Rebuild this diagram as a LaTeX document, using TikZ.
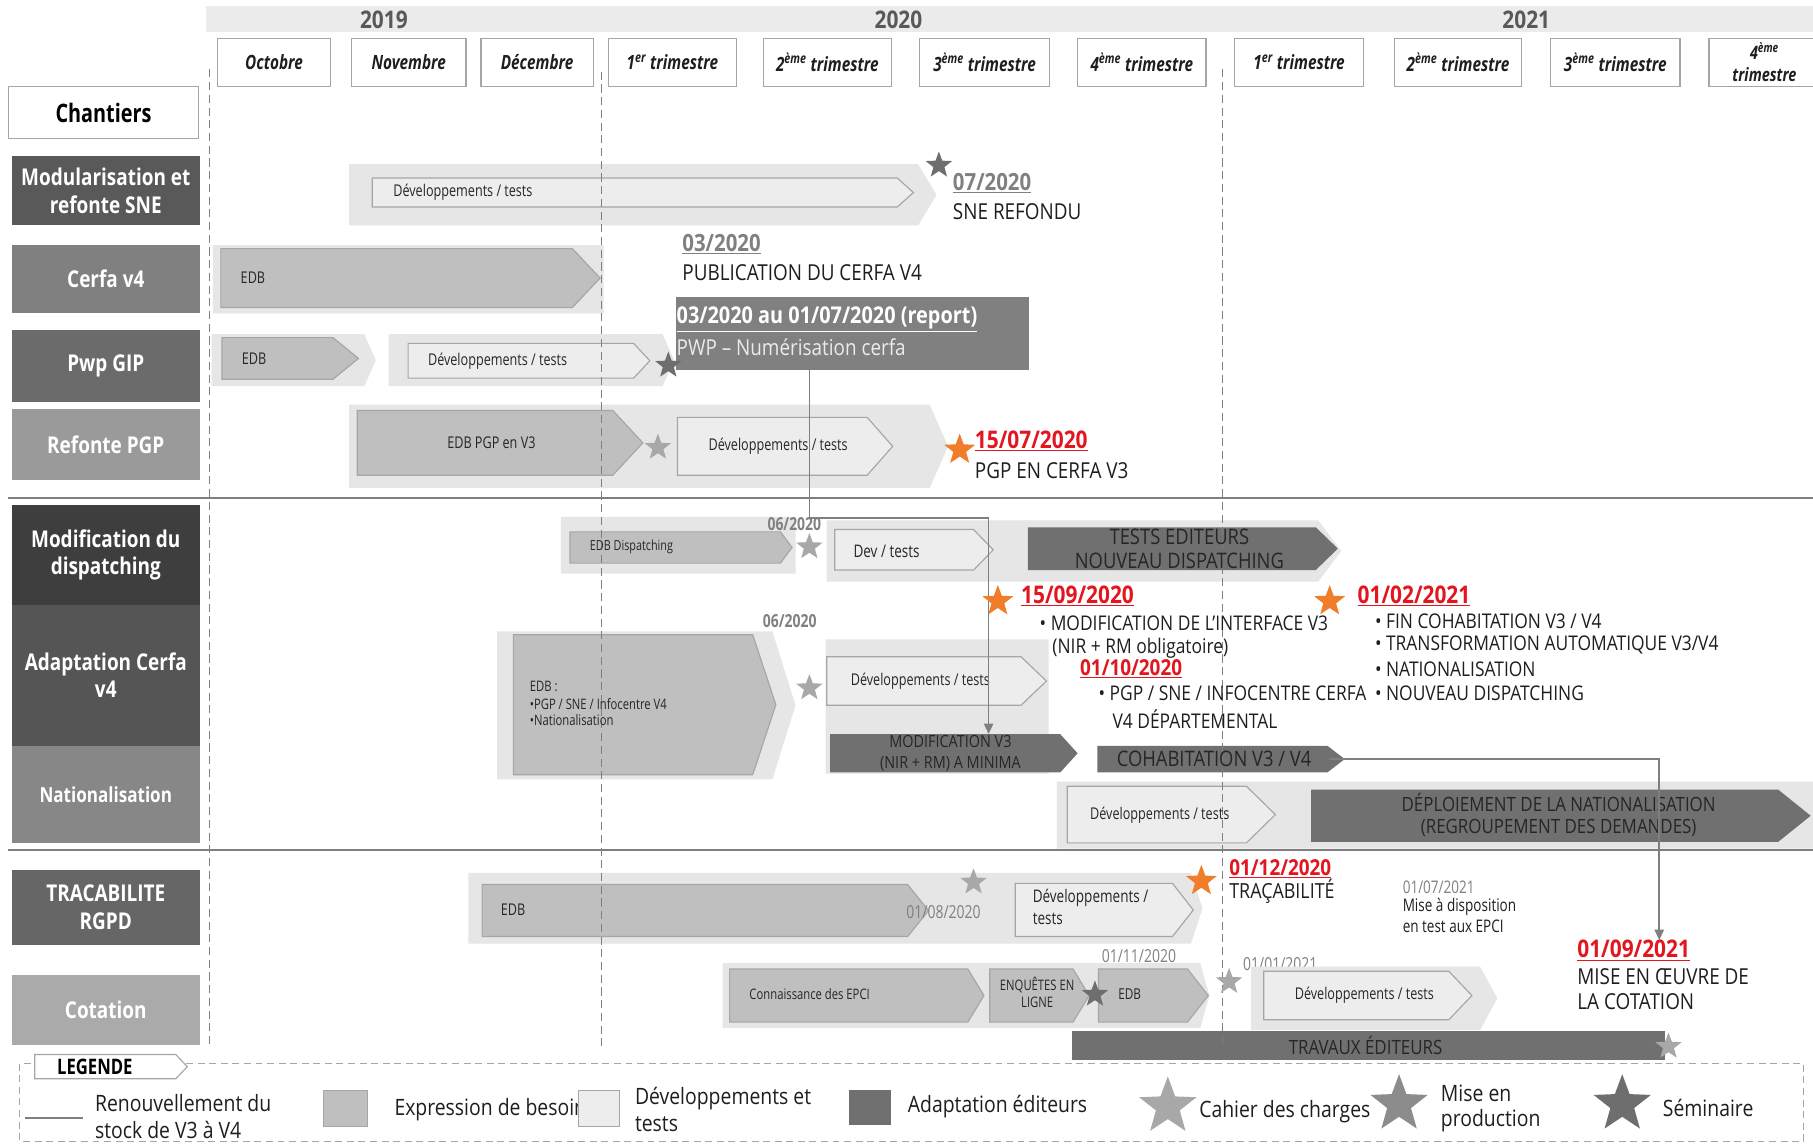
\documentclass[tikz,border=0pt]{standalone}
\usepackage{fontspec}
\setmainfont{Open Sans}
\newfontfamily\fC[FakeStretch=0.78]{Open Sans}
\newfontfamily\fB[FakeStretch=0.82]{Open Sans}
\newfontfamily\fA[FakeStretch=0.86]{Open Sans}
\usetikzlibrary{shapes.geometric,arrows.meta}
\definecolor{bandc}{HTML}{E6E6E6}
\definecolor{devc}{HTML}{EDEDED}
\definecolor{edgec}{HTML}{A6A6A6}
\definecolor{edbc}{HTML}{BFBFBF}
\definecolor{darkc}{HTML}{707070}
\definecolor{pwpc}{HTML}{808080}
\definecolor{linec}{HTML}{7F7F7F}
\definecolor{yearc}{HTML}{595959}
\definecolor{datec}{HTML}{808080}
\definecolor{redc}{HTML}{E3151E}
\definecolor{orangec}{HTML}{F07D2A}
\definecolor{starL}{HTML}{A8A8A8}
\definecolor{starM}{HTML}{8C8C8C}
\definecolor{starD}{HTML}{6E6E6E}
\definecolor{txt}{HTML}{1E1E1E}
\definecolor{dtxt}{HTML}{262626}
\definecolor{rA}{HTML}{595959}
\definecolor{rB}{HTML}{808080}
\definecolor{rC}{HTML}{6B6B6B}
\definecolor{rD}{HTML}{9A9A9A}
\definecolor{rE}{HTML}{3E3E3E}
\definecolor{rF}{HTML}{555555}
\definecolor{rG}{HTML}{878787}
\definecolor{rH}{HTML}{666666}
\definecolor{rI}{HTML}{AAAAAA}
\newcommand\fs[2]{\fontsize{#1pt}{#2pt}\selectfont}
\newcommand\chevr[6]{\path[#1] (#2,#3) -- ({#4-(#6)},#3) -- (#4,{(#3+#5)/2}) -- ({#4-(#6)},#5) -- (#2,#5) -- cycle;}
\tikzset{
  band/.style={fill=bandc,draw=none},
  devbox/.style={fill=devc,draw=edgec,line width=1pt},
  edbbox/.style={fill=edbc,draw=edgec,line width=1pt},
  darkbox/.style={fill=darkc,draw=none},
  yr/.style={inner sep=0pt,text=yearc,font=\fA\bfseries\fs{21}{24}},
  month/.style={draw=edgec,fill=white,line width=1pt,inner sep=0pt,align=center,font=\fC\bfseries\itshape\fs{17}{18},text=txt},
  rowlab/.style={inner sep=0pt,minimum width=163pt,align=center,text=white,font=\fB\bfseries\fs{20}{24}},
  lbl/.style={inner sep=0pt,text=dtxt,font=\fC\fs{14}{16}},
  slbl/.style={inner sep=0pt,text=dtxt,font=\fC\fs{12.5}{14}},
  dlbl/.style={inner sep=0pt,text=dtxt,font=\fA\fs{18.5}{20}},
  gdate/.style={inner sep=0pt,text=datec,font=\fC\bfseries\fs{15.5}{17}},
  bdate/.style={inner sep=0pt,text=datec,font=\fA\bfseries\fs{20.5}{23}},
  rdate/.style={inner sep=0pt,text=redc,font=\fA\bfseries\fs{21}{23}},
  note/.style={inner sep=0pt,text=txt,font=\fA\fs{19}{21}},
  bnote/.style={inner sep=0pt,text=txt,font=\fA\fs{17.5}{20}},
  leg/.style={inner sep=0pt,text=txt,font=\fA\fs{19.5}{22}},
  starbase/.style={star,star points=5,star point ratio=2.4,inner sep=0pt,draw=none},
  stL/.style={starbase,fill=starL,minimum size=24pt},
  stM/.style={starbase,fill=starM,minimum size=24pt},
  stD/.style={starbase,fill=starD,minimum size=24pt},
  stO/.style={starbase,fill=orangec,minimum size=28pt},
  conn/.style={draw=linec,line width=1.4pt},
  sep/.style={draw=linec,line width=1.6pt},
  vdash/.style={draw=linec,line width=0.9pt,dash pattern=on 7pt off 4pt},
}
\begin{document}
\begin{tikzpicture}[x=1pt,y=-1pt]
\useasboundingbox (0,0) rectangle (1568,990);
\fill[white] (0,0) rectangle (1568,990);

% ---------- header ----------
\fill[bandc!80!white] (178,5) rectangle (1568,28);
\node[yr] (y19) at (332,17) {2019};
\node[yr] (y20) at (777,17) {2020};
\node[yr] (y21) at (1320,17) {2021};

\node[month,minimum width=98pt,minimum height=42pt] (m1) at (237,54) {Octobre};
\node[month,minimum width=99pt,minimum height=42pt] (m2) at (353.5,54) {Novembre};
\node[month,minimum width=97pt,minimum height=42pt] (m3) at (464.5,54) {Décembre};
\node[month,minimum width=111pt,minimum height=42pt] (m4) at (581.5,54) {1\textsuperscript{er} trimestre};
\node[month,minimum width=111pt,minimum height=42pt] (m5) at (715.5,54) {2\textsuperscript{ème} trimestre};
\node[month,minimum width=113pt,minimum height=42pt] (m6) at (851.5,54) {3\textsuperscript{ème} trimestre};
\node[month,minimum width=111pt,minimum height=42pt] (m7) at (987.5,54) {4\textsuperscript{ème} trimestre};
\node[month,minimum width=111pt,minimum height=42pt] (m8) at (1123.5,54) {1\textsuperscript{er} trimestre};
\node[month,minimum width=110pt,minimum height=42pt] (m9) at (1261,54) {2\textsuperscript{ème} trimestre};
\node[month,minimum width=112pt,minimum height=42pt] (m10) at (1397,54) {3\textsuperscript{ème} trimestre};
\node[month,minimum width=96pt,minimum height=42pt,font=\fC\bfseries\itshape\fs{16}{19}] (m11) at (1526,54) {4\textsuperscript{ème}\\trimestre};

% ---------- separators ----------
\draw[sep] (7,431) -- (1568,431);
\draw[sep] (7,735) -- (1568,735);

% ---------- row labels ----------
\node[draw=edgec,line width=1pt,fill=white,minimum width=165pt,minimum height=45pt,inner sep=0pt,font=\fC\bfseries\fs{22}{24},text=black] (chant) at (89.5,97.5) {Chantiers};
\node[rowlab,fill=rA,minimum height=60pt] (r1) at (91.5,165) {Modularisation et\\refonte SNE};
\node[rowlab,fill=rB,minimum height=59pt] (r2) at (91.5,241.5) {Cerfa v4};
\node[rowlab,fill=rC,minimum height=63pt] (r3) at (91.5,316.5) {Pwp GIP};
\node[rowlab,fill=rD,minimum height=61pt] (r4) at (91.5,384.5) {Refonte PGP};
\node[rowlab,fill=rE,minimum height=86pt] (r5) at (91.5,480) {Modification du\\dispatching};
\node[rowlab,fill=rF,minimum height=122pt] (r6) at (91.5,584) {Adaptation Cerfa\\v4};
\node[rowlab,fill=rG,minimum height=84pt,font=\fB\bfseries\fs{18}{20}] (r7) at (91.5,687) {Nationalisation};
\node[rowlab,fill=rH,minimum height=65pt] (r8) at (91.5,784.5) {TRACABILITE\\RGPD};
\node[rowlab,fill=rI,minimum height=61pt] (r9) at (91.5,873.5) {Cotation};

% ---------- boxes ----------
\chevr{band}{302}{142}{810}{195}{16}
\chevr{devbox}{322}{154}{790}{179}{14}
\chevr{band}{184}{212}{522}{271}{0}
\chevr{edbbox}{191}{215}{519}{266}{24}
\chevr{band}{183}{289}{325}{334}{10}
\chevr{edbbox}{192}{292}{310}{328}{22}
\chevr{band}{336}{289}{583}{334}{10}
\chevr{devbox}{353}{297}{562}{327}{14}
\node[fill=pwpc,minimum width=305pt,minimum height=63pt,inner sep=0pt] (pwp) at (737.5,288.5) {};
\chevr{band}{302}{350}{820}{422}{16}
\chevr{edbbox}{309}{355}{556}{411}{26}
\chevr{devbox}{586}{361}{772}{411}{22}
\chevr{band}{485}{447}{688}{496}{0}
\chevr{edbbox}{493}{460}{685}{487}{10}
\chevr{band}{715}{450}{1160}{503}{20}
\chevr{devbox}{722}{458}{859}{493}{17}
\chevr{darkbox}{889}{456}{1157}{493}{19}
\chevr{band}{430}{546}{688}{674}{20}
\chevr{edbbox}{444}{549}{671}{670}{20}
\chevr{band}{714}{553}{907}{669}{0}
\chevr{devbox}{715}{568}{905}{610}{22}
\chevr{darkbox}{718}{635}{932}{668}{15}
\chevr{darkbox}{949}{645}{1163}{668}{15}
\chevr{band}{914}{676}{1568}{734}{0}
\chevr{devbox}{923}{680}{1103}{729}{25}
\chevr{darkbox}{1134}{683}{1566}{728}{28}
\chevr{band}{405}{755}{1040}{816}{10}
\chevr{edbbox}{417}{765}{803}{810}{18}
\chevr{devbox}{878}{764}{1032}{810}{18}
\chevr{band}{625}{833}{1046}{889}{8}
\chevr{edbbox}{631}{838}{851}{884}{14}
\chevr{edbbox}{856}{838}{942}{884}{14}
\chevr{edbbox}{950}{838}{1045}{884}{18}
\node[gdate,anchor=west,font=\fC\fs{15.5}{17}] (g6) at (1075,834) {01/01/2021};
\chevr{band}{1082}{836}{1295}{891}{15}
\chevr{devbox}{1093}{840}{1273}{882}{20}
\fill[darkc] (927,892) rectangle (1440,917);

% ---------- grid (over the boxes) ----------
\draw[vdash] (181.5,60) -- (181.5,905);
\draw[vdash] (520,62) -- (520,905);
\draw[vdash] (1057,60) -- (1057,905);

% ---------- texts ----------
\node[lbl,anchor=west] (t1) at (340,166) {Développements / tests};
\node[bdate,anchor=west] (d1) at (824,158) {\underline{07/2020}};
\node[note,anchor=west] (d1b) at (824,183) {SNE REFONDU};
\node[lbl,anchor=west] (t2) at (208,240) {EDB};
\node[bdate,anchor=west] (d2) at (590,211) {\underline{03/2020}};
\node[note,anchor=west] (d2b) at (590,236) {PUBLICATION DU CERFA V4};
\node[lbl,anchor=west] (t3) at (209,310) {EDB};
\node[lbl,anchor=west] (t4) at (370,312) {Développements / tests};
\node[inner sep=0pt,anchor=west,text=white,font=\fA\bfseries\fs{20}{22}] (pwpa) at (585,276) {\underline{03/2020 au 01/07/2020 (report)}};
\node[inner sep=0pt,anchor=west,text=white!92!black,font=\fA\fs{19}{21}] (pwpb) at (585,300) {PWP – Numérisation cerfa};
\node[lbl] (t5) at (425,383) {EDB PGP en V3};
\node[lbl] (t6) at (673,386) {Développements / tests};
\node[rdate,anchor=west] (d3) at (843,381) {\underline{15/07/2020}};
\node[note,anchor=west] (d3b) at (843,407) {PGP EN CERFA V3};

\node[slbl,anchor=west,font=\fC\fs{12}{14}] (t7) at (510,473) {EDB Dispatching};
\node[gdate] (g1) at (687,453) {06/2020};
\node[lbl,anchor=west,font=\fC\fs{15}{17}] (t8) at (738,477) {Dev / tests};
\node[dlbl] (t9a) at (1020,464) {TESTS EDITEURS};
\node[dlbl] (t9b) at (1020,485) {NOUVEAU DISPATCHING};
\node[rdate,anchor=west] (d4) at (883,515) {\underline{15/09/2020}};
\node[bnote,anchor=west] (d4b) at (899,539) {• MODIFICATION DE L’INTERFACE V3};
\node[bnote,anchor=west] (d4c) at (910,561) {(NIR + RM obligatoire)};
\node[rdate,anchor=west,font=\fA\bfseries\fs{19}{21}] (d5) at (934,578) {\underline{01/10/2020}};
\node[bnote,anchor=west] (d5b) at (950,600) {• PGP / SNE / INFOCENTRE CERFA};
\node[bnote,anchor=west] (d5c) at (962,622) {V4 DÉPARTEMENTAL};
\node[rdate,anchor=west] (d6) at (1174,515) {\underline{01/02/2021}};
\node[bnote,anchor=west] (d6a) at (1189,537) {• FIN COHABITATION V3 / V4};
\node[bnote,anchor=west] (d6b) at (1189,558) {• TRANSFORMATION AUTOMATIQUE V3/V4};
\node[bnote,anchor=west] (d6c) at (1189,579) {• NATIONALISATION};
\node[bnote,anchor=west] (d6d) at (1189,600) {• NOUVEAU DISPATCHING};

\node[slbl,anchor=west] (t10a) at (458,594) {EDB :};
\node[slbl,anchor=west] (t10b) at (458,609) {•PGP / SNE / Infocentre V4};
\node[slbl,anchor=west] (t10c) at (458,623) {•Nationalisation};
\node[gdate] (g2) at (683,537) {06/2020};
\node[lbl] (t11) at (796,589) {Développements / tests};
\node[inner sep=0pt,minimum width=199pt,minimum height=33pt] (modv3) at (817.5,651.5) {};
\node[dlbl,font=\fA\fs{14.5}{16}] (t12a) at (822,641) {MODIFICATION V3};
\node[dlbl,font=\fA\fs{14.5}{16}] (t12b) at (822,661) {(NIR + RM) A MINIMA};
\node[dlbl,minimum width=199pt,minimum height=23pt] (cohab) at (1050,656.5) {COHABITATION V3 / V4};

\node[lbl] (t13) at (1003,705) {Développements / tests};
\node[dlbl,font=\fA\fs{17}{19}] (t14a) at (1348,694) {DÉPLOIEMENT DE LA NATIONALISATION};
\node[dlbl,font=\fA\fs{17}{19}] (t14b) at (1348,716) {(REGROUPEMENT DES DEMANDES)};

\node[lbl,anchor=west] (t15) at (433,787) {EDB};
\node[gdate,font=\fC\fs{15.5}{17}] (g3) at (816,789) {01/08/2020};
\node[lbl,anchor=west,font=\fC\fs{15}{17}] (t16a) at (893,777) {Développements /};
\node[lbl,anchor=west,font=\fC\fs{15}{17}] (t16b) at (893,795) {tests};
\node[rdate,anchor=west,font=\fA\bfseries\fs{19}{21}] (d7) at (1063,751) {\underline{01/12/2020}};
\node[note,anchor=west,font=\fA\fs{18}{20}] (d7b) at (1063,771) {TRAÇABILITÉ};
\node[inner sep=0pt,anchor=west,text=datec,font=\fC\fs{15}{17}] (g4) at (1213,767) {01/07/2021};
\node[inner sep=0pt,anchor=west,text=txt,font=\fC\fs{15}{17}] (g4b) at (1213,784) {Mise à disposition};
\node[inner sep=0pt,anchor=west,text=txt,font=\fC\fs{15}{17}] (g4c) at (1213,801) {en test aux EPCI};

\node[slbl,anchor=west] (t17) at (648,860) {Connaissance des EPCI};
\node[slbl] (t18a) at (897,852) {ENQUÊTES EN};
\node[slbl] (t18b) at (897,867) {LIGNE};
\node[slbl,anchor=west,font=\fC\fs{13}{15}] (t19) at (967,860) {EDB};
\node[gdate,font=\fC\fs{15.5}{17}] (g5) at (985,827) {01/11/2020};
\node[lbl] (t20) at (1180,861) {Développements / tests};
\node[rdate,anchor=west] (d8) at (1364,822) {\underline{01/09/2021}};
\node[note,anchor=west] (d8b) at (1364,845) {MISE EN ŒUVRE DE};
\node[note,anchor=west] (d8c) at (1364,866) {LA COTATION};
\node[dlbl,font=\fA\fs{17}{19}] (t21) at (1181,904) {TRAVAUX ÉDITEURS};

% ---------- connectors ----------
\coordinate (j1) at (700,448);
\coordinate (j2) at (855,448);
\coordinate (k1) at (1435,0);
\draw[conn,-{Triangle[length=9pt,width=8pt]}] (pwp.south -| j1) -- (j1) -- (j2) -- (j2 |- modv3.north);
\draw[conn,-{Triangle[length=9pt,width=8pt]}] (cohab.east) -- (cohab.east -| k1) -- (k1 |- d8.north);

% ---------- stars ----------
\node[stD] (s1) at (812,143) {};
\node[stD] (s2) at (578,316) {};
\node[stL] (s3) at (569,387) {};
\node[stO] (s4) at (830,389) {};
\node[stL] (s5) at (700,473) {};
\node[stO] (s6) at (863,520) {};
\node[stO] (s7) at (1150,520) {};
\node[stL] (s8) at (700,595) {};
\node[stL] (s9) at (842,763) {};
\node[stO] (s10) at (1039,762) {};
\node[stD] (s11) at (947,860) {};
\node[stL] (s12) at (1063,849) {};
\node[stL] (s13) at (1443,905) {};

% ---------- legend ----------
\draw[draw=edgec,line width=1pt,dash pattern=on 6pt off 4pt] (17,920) rectangle (1560,987);
\path[fill=white,draw=edgec,line width=1pt] (30,912) -- (152,912) -- (162,922.5) -- (152,933) -- (30,933) -- cycle;
\node[inner sep=0pt,text=black,font=\fC\bfseries\fs{18.5}{20}] (legt) at (82,922.5) {LEGENDE};
\coordinate (l1) at (22,967);
\coordinate (l2) at (72,967);
\draw[conn] (l1) -- (l2);
\node[leg,anchor=west] (lg1a) at (82,954) {Renouvellement du};
\node[leg,anchor=west] (lg1b) at (82,977) {stock de V3 à V4};
\node[edbbox,minimum width=38pt,minimum height=31pt,inner sep=0pt] (lgq1) at (299,958.5) {};
\node[leg,anchor=west] (lg2) at (341,960) {Expression de besoin};
\node[devbox,minimum width=36pt,minimum height=31pt,inner sep=0pt] (lgq2) at (518,958.5) {};
\node[leg,anchor=west] (lg3a) at (549,950) {Développements et};
\node[leg,anchor=west] (lg3b) at (549,972) {tests};
\node[fill=darkc,minimum width=37pt,minimum height=30pt,inner sep=0pt] (lgq3) at (752.5,958) {};
\node[leg,anchor=west] (lg4) at (785,957) {Adaptation éditeurs};
\node[starbase,fill=starL,minimum size=52pt] (lgs1) at (1010,957) {};
\node[leg,anchor=west] (lg5) at (1037,961) {Cahier des charges};
\node[starbase,fill=starM,minimum size=52pt] (lgs2) at (1210,955) {};
\node[leg,anchor=west] (lg6a) at (1246,946) {Mise en};
\node[leg,anchor=west] (lg6b) at (1246,969) {production};
\node[starbase,fill=starD,minimum size=52pt] (lgs3) at (1403,955) {};
\node[leg,anchor=west] (lg7) at (1438,958) {Séminaire};
\end{tikzpicture}
\end{document}
